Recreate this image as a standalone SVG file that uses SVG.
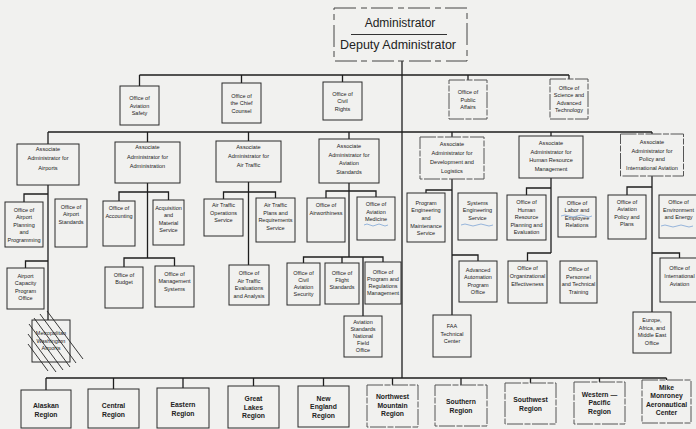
<svg xmlns="http://www.w3.org/2000/svg" width="696" height="429" viewBox="0 0 696 429">
<style>
.bx{fill:none;stroke:#2a2a2a;stroke-width:1}
.fd{stroke:#555;stroke-dasharray:16 1.5 6 1.5}
.ad{stroke:#444;stroke-dasharray:22 5 6 4}
.t{font-family:"Liberation Sans",Arial,sans-serif;font-size:5.5px;fill:#222;text-anchor:middle}
.a{font-size:5.6px}
.r{font-size:6.8px;font-weight:bold}
.c{fill:none;stroke:#1e1e1e;stroke-width:1.3}
.h{stroke:#222;stroke-width:0.9}
.bl{fill:none;stroke:#7fa6d6;stroke-width:0.8}
</style>
<rect width="696" height="429" fill="#f1f1ef"/>
<g id="connectors">
<path class="c" d="M402 61V378"/>
<path class="c" d="M139.5 75H569M139.5 75V86M241.5 75V83M342.5 75V82M468 75V80M569 75V79"/>
<path class="c" d="M48 132H652M48 132V144M147.5 132V142M248.5 132V141M349 132V139M452 132V137M551 132V136M652 132V134"/>
<path class="c" d="M48 185V320M24 202V194H48M25.5 268V261H48"/>
<path class="c" d="M147.5 183V258M119 201V192H168.5V200M124 267V258H174.5V266"/>
<path class="c" d="M248.5 182V265M223.5 199V192H275.5V198"/>
<path class="c" d="M349 183V257M326 198V191H376V197M303.5 263V257H383V262M342 257V263M363 257V316"/>
<path class="c" d="M452 179V315M426 193V190H452M452 255H478V261"/>
<path class="c" d="M551 178V253M526.5 195V188H551M527.5 261V253H551"/>
<path class="c" d="M652 176V312M627 195V187H652M652 253H679.5V258"/>
<path class="c" d="M46 378H666.5M46 378V390M113.5 378V389M183 378V388M253.5 378V386M323.5 378V386M392.5 378V385M461 378V385M530.5 378V383M599.5 378V382M666.5 378V380"/>
</g>
<g id="admin">
<rect class="bx ad" x="334" y="8" width="133" height="53"/>
<text class="t" x="400" y="27" style="font-size:12px">Administrator</text>
<path d="M351 34.5H447" stroke="#333" stroke-width="1"/>
<text class="t" x="398" y="49" style="font-size:12.5px">Deputy Administrator</text>
</g>
<g id="safety"><rect class="bx" x="120" y="86" width="39" height="39"/><text class="t" x="139.5" y="100">Office of<tspan x="139.5" dy="7.5">Aviation</tspan><tspan x="139.5" dy="7.5">Safety</tspan></text></g>
<g id="counsel"><rect class="bx" x="222" y="83" width="39" height="40"/><text class="t" x="241.5" y="97.5">Office of<tspan x="241.5" dy="7.5">the Chief</tspan><tspan x="241.5" dy="7.5">Counsel</tspan></text></g>
<g id="civil"><rect class="bx" x="323" y="82" width="39" height="38"/><text class="t" x="342.5" y="95.5">Office of<tspan x="342.5" dy="7.5">Civil</tspan><tspan x="342.5" dy="7.5">Rights</tspan></text></g>
<g id="public"><rect class="bx fd" x="449" y="80" width="38" height="39"/><text class="t" x="468" y="94">Office of<tspan x="468" dy="7.5">Public</tspan><tspan x="468" dy="7.5">Affairs</tspan></text></g>
<g id="science"><rect class="bx fd" x="550" y="79" width="38" height="40"/><text class="t" x="569" y="89.5">Office of<tspan x="569" dy="7.5">Science and</tspan><tspan x="569" dy="7.5">Advanced</tspan><tspan x="569" dy="7.5">Technology</tspan></text></g>

<g id="aa-airports"><rect class="bx" x="17" y="144" width="62" height="41"/><text class="t a" x="48" y="150.5">Associate<tspan x="48" dy="9.5">Administrator for</tspan><tspan x="48" dy="9.5">Airports</tspan></text></g>
<g id="aa-admin"><rect class="bx" x="115" y="142" width="65" height="41"/><text class="t a" x="147.5" y="149">Associate<tspan x="147.5" dy="9.5">Administrator for</tspan><tspan x="147.5" dy="9.5">Administration</tspan></text></g>
<g id="aa-airtraffic"><rect class="bx" x="216" y="141" width="65" height="41"/><text class="t a" x="248.5" y="149">Associate<tspan x="248.5" dy="9">Administrator for</tspan><tspan x="248.5" dy="9">Air Traffic</tspan></text></g>
<g id="aa-standards"><rect class="bx" x="319" y="139" width="60" height="44"/><text class="t a" x="349" y="148">Associate<tspan x="349" dy="8.7">Administrator for</tspan><tspan x="349" dy="8.7">Aviation</tspan><tspan x="349" dy="8.7">Standards</tspan></text></g>
<g id="aa-devlog"><rect class="bx fd" x="420" y="137" width="64" height="42"/><text class="t a" x="452" y="146">Associate<tspan x="452" dy="9">Administrator for</tspan><tspan x="452" dy="9">Development and</tspan><tspan x="452" dy="9">Logistics</tspan></text></g>
<g id="aa-hrm"><rect class="bx" x="519" y="136" width="64" height="42"/><text class="t a" x="551" y="145">Associate<tspan x="551" dy="8.7">Administrator for</tspan><tspan x="551" dy="8.7">Human Resource</tspan><tspan x="551" dy="8.7">Management</tspan></text></g>
<g id="aa-policy"><rect class="bx fd" x="620.5" y="134" width="63" height="42"/><text class="t a" x="652" y="144">Associate<tspan x="652" dy="8.5">Administrator for</tspan><tspan x="652" dy="8.5">Policy and</tspan><tspan x="652" dy="8.5">International Aviation</tspan></text></g>

<g id="ap-plan"><rect class="bx" x="5" y="202" width="38" height="45"/><text class="t" x="24" y="211.5">Office of<tspan x="24" dy="7.5">Airport</tspan><tspan x="24" dy="7.5">Planning</tspan><tspan x="24" dy="7.5">and</tspan><tspan x="24" dy="7.5">Programming</tspan></text></g>
<g id="ap-std"><rect class="bx" x="55" y="199" width="32" height="48"/><text class="t" x="71" y="208.5">Office of<tspan x="71" dy="7.5">Airport</tspan><tspan x="71" dy="7.5">Standards</tspan></text></g>
<g id="ap-cap"><rect class="bx" x="7" y="268" width="37" height="41"/><text class="t" x="25.5" y="277.5">Airport<tspan x="25.5" dy="7.5">Capacity</tspan><tspan x="25.5" dy="7.5">Program</tspan><tspan x="25.5" dy="7.5">Office</tspan></text></g>
<g id="mwa"><rect class="bx" x="32" y="320" width="38" height="42"/><text class="t" x="51" y="335">Metropolitan<tspan x="51" dy="7.7">Washington</tspan><tspan x="51" dy="7.7">Airports</tspan></text>
<path class="h" d="M47 311L83 359M40 314L76 363M34 318L70 367M29 324L63 370M28 334L56 372M28 344L48 371"/></g>

<g id="ad-acct"><rect class="bx" x="103" y="201" width="32" height="45"/><text class="t" x="119" y="210">Office of<tspan x="119" dy="7.5">Accounting</tspan></text></g>
<g id="ad-acq"><rect class="bx" x="153" y="200" width="31" height="45"/><text class="t" x="168.5" y="209.5">Acquisition<tspan x="168.5" dy="7.5">and</tspan><tspan x="168.5" dy="7.5">Material</tspan><tspan x="168.5" dy="7.5">Service</tspan></text></g>
<g id="ad-budget"><rect class="bx" x="105" y="267" width="38" height="41"/><text class="t" x="124" y="276.5">Office of<tspan x="124" dy="7.5">Budget</tspan></text></g>
<g id="ad-mgmt"><rect class="bx" x="155" y="266" width="39" height="41"/><text class="t" x="174.5" y="275.5">Office of<tspan x="174.5" dy="7.5">Management</tspan><tspan x="174.5" dy="7.5">Systems</tspan></text></g>

<g id="at-ops"><rect class="bx" x="204" y="199" width="39" height="37"/><text class="t" x="223.5" y="207">Air Traffic<tspan x="223.5" dy="7.5">Operations</tspan><tspan x="223.5" dy="7.5">Service</tspan></text></g>
<g id="at-plans"><rect class="bx" x="256" y="198" width="39" height="44"/><text class="t" x="275.5" y="207">Air Traffic<tspan x="275.5" dy="7.5">Plans and</tspan><tspan x="275.5" dy="7.5">Requirements</tspan><tspan x="275.5" dy="7.5">Service</tspan></text></g>
<g id="at-eval"><rect class="bx" x="229" y="265" width="40" height="40"/><text class="t" x="249" y="275">Office of<tspan x="249" dy="7.5">Air Traffic</tspan><tspan x="249" dy="7.5">Evaluations</tspan><tspan x="249" dy="7.5">and Analysis</tspan></text></g>

<g id="as-air"><rect class="bx" x="307" y="198" width="38" height="44"/><text class="t" x="326" y="207">Office of<tspan x="326" dy="7.5">Airworthiness</tspan></text></g>
<g id="as-med"><rect class="bx" x="357" y="197" width="38" height="43"/><text class="t" x="376" y="206">Office of<tspan x="376" dy="7.5">Aviation</tspan><tspan x="376" dy="7.5">Medicine</tspan></text><path class="bl" d="M364 225q3-2 6 0t6 0t6 0t6 0"/></g>
<g id="as-sec"><rect class="bx" x="287" y="263" width="33" height="42"/><text class="t" x="303.5" y="274.5">Office of<tspan x="303.5" dy="7.3">Civil</tspan><tspan x="303.5" dy="7.3">Aviation</tspan><tspan x="303.5" dy="7.3">Security</tspan></text></g>
<g id="as-flt"><rect class="bx" x="325" y="263" width="34" height="41"/><text class="t" x="342" y="274.5">Office of<tspan x="342" dy="7.3">Flight</tspan><tspan x="342" dy="7.3">Standards</tspan></text></g>
<g id="as-prog"><rect class="bx" x="365" y="262" width="36" height="42"/><text class="t" x="383" y="273.5">Office of<tspan x="383" dy="7.3">Program and</tspan><tspan x="383" dy="7.3">Regulations</tspan><tspan x="383" dy="7.3">Management</tspan></text></g>
<g id="as-nfo"><rect class="bx" x="344" y="316" width="38" height="41"/><text class="t" x="363" y="323.5">Aviation<tspan x="363" dy="7.2">Standards</tspan><tspan x="363" dy="7.2">National</tspan><tspan x="363" dy="7.2">Field</tspan><tspan x="363" dy="7.2">Office</tspan></text></g>

<g id="dl-pem"><rect class="bx" x="407" y="193" width="38" height="49"/><text class="t" x="426" y="204.5">Program<tspan x="426" dy="7.7">Engineering</tspan><tspan x="426" dy="7.7">and</tspan><tspan x="426" dy="7.7">Maintenance</tspan><tspan x="426" dy="7.7">Service</tspan></text></g>
<g id="dl-se"><rect class="bx" x="458" y="193" width="39" height="47"/><text class="t" x="477.5" y="204.5">Systems<tspan x="477.5" dy="7.5">Engineering</tspan><tspan x="477.5" dy="7.5">Service</tspan></text><path class="bl" d="M461 225q4-2 8 0t8 0t8 0t8 0"/></g>
<g id="dl-aa"><rect class="bx" x="459" y="261" width="38" height="41"/><text class="t" x="478" y="271.5">Advanced<tspan x="478" dy="7.5">Automation</tspan><tspan x="478" dy="7.5">Program</tspan><tspan x="478" dy="7.5">Office</tspan></text></g>
<g id="dl-tc"><rect class="bx" x="433" y="315" width="38" height="42"/><text class="t" x="452" y="328">FAA<tspan x="452" dy="7.7">Technical</tspan><tspan x="452" dy="7.7">Center</tspan></text></g>

<g id="hr-pe"><rect class="bx" x="507" y="195" width="39" height="45"/><text class="t" x="526.5" y="204">Office of<tspan x="526.5" dy="7.6">Human</tspan><tspan x="526.5" dy="7.6">Resource</tspan><tspan x="526.5" dy="7.6">Planning and</tspan><tspan x="526.5" dy="7.6">Evaluation</tspan></text></g>
<g id="hr-ler"><rect class="bx" x="558" y="197" width="38" height="40"/><text class="t" x="577" y="204.5">Office of<tspan x="577" dy="7.5">Labor and</tspan><tspan x="577" dy="7.5">Employee</tspan><tspan x="577" dy="7.5">Relations</tspan></text><path class="bl" d="M561 216q4-2 8 0t8 0t8 0t7 0"/></g>
<g id="hr-oe"><rect class="bx" x="508" y="261" width="39" height="42"/><text class="t" x="527.5" y="270">Office of<tspan x="527.5" dy="7.8">Organizational</tspan><tspan x="527.5" dy="7.8">Effectiveness</tspan></text></g>
<g id="hr-ptt"><rect class="bx" x="560" y="261" width="37" height="42"/><text class="t" x="578.5" y="271">Office of<tspan x="578.5" dy="7.6">Personnel</tspan><tspan x="578.5" dy="7.6">and Technical</tspan><tspan x="578.5" dy="7.6">Training</tspan></text></g>

<g id="pi-pp"><rect class="bx" x="608" y="195" width="38" height="44"/><text class="t" x="627" y="204">Office of<tspan x="627" dy="7.3">Aviation</tspan><tspan x="627" dy="7.3">Policy and</tspan><tspan x="627" dy="7.3">Plans</tspan></text></g>
<g id="pi-ee"><rect class="bx" x="659" y="195" width="39" height="43"/><text class="t" x="678.5" y="204">Office of<tspan x="678.5" dy="7.5">Environment</tspan><tspan x="678.5" dy="7.5">and Energy</tspan></text><path class="bl" d="M661 226q4-2 8 0t8 0t8 0t8 0"/></g>
<g id="pi-ia"><rect class="bx" x="660" y="258" width="39" height="44"/><text class="t" x="679.5" y="270">Office of<tspan x="679.5" dy="8">International</tspan><tspan x="679.5" dy="8">Aviation</tspan></text></g>
<g id="pi-eu"><rect class="bx" x="633" y="312" width="38" height="41"/><text class="t" x="652" y="322">Europe,<tspan x="652" dy="7.5">Africa, and</tspan><tspan x="652" dy="7.5">Middle East</tspan><tspan x="652" dy="7.5">Office</tspan></text></g>

<g id="rg-alaskan"><rect class="bx" x="21" y="390" width="50" height="38"/><text class="t r" x="46" y="408">Alaskan<tspan x="46" dy="9">Region</tspan></text></g>
<g id="rg-central"><rect class="bx" x="88" y="389" width="51" height="39"/><text class="t r" x="113.5" y="407.5">Central<tspan x="113.5" dy="9">Region</tspan></text></g>
<g id="rg-eastern"><rect class="bx" x="157" y="388" width="52" height="40"/><text class="t r" x="183" y="406.5">Eastern<tspan x="183" dy="9">Region</tspan></text></g>
<g id="rg-greatlakes"><rect class="bx" x="228" y="386" width="51" height="42"/><text class="t r" x="253.5" y="401">Great<tspan x="253.5" dy="8.5">Lakes</tspan><tspan x="253.5" dy="8.5">Region</tspan></text></g>
<g id="rg-newengland"><rect class="bx" x="298" y="386" width="51" height="41"/><text class="t r" x="323.5" y="400.5">New<tspan x="323.5" dy="8.5">England</tspan><tspan x="323.5" dy="8.5">Region</tspan></text></g>
<g id="rg-northwest"><rect class="bx fd" x="367" y="385" width="51" height="42"/><text class="t r" x="392.5" y="399">Northwest<tspan x="392.5" dy="8.5">Mountain</tspan><tspan x="392.5" dy="8.5">Region</tspan></text></g>
<g id="rg-southern"><rect class="bx fd" x="435" y="385" width="52" height="41"/><text class="t r" x="461" y="404">Southern<tspan x="461" dy="9">Region</tspan></text></g>
<g id="rg-southwest"><rect class="bx fd" x="505" y="383" width="51" height="41"/><text class="t r" x="530.5" y="402">Southwest<tspan x="530.5" dy="9">Region</tspan></text></g>
<g id="rg-western"><rect class="bx fd" x="574" y="382" width="51" height="42"/><text class="t r" x="599.5" y="396.5">Western —<tspan x="599.5" dy="8.5">Pacific</tspan><tspan x="599.5" dy="8.5">Region</tspan></text></g>
<g id="rg-mike"><rect class="bx fd" x="642" y="380" width="49" height="43"/><text class="t r" x="666.5" y="390">Mike<tspan x="666.5" dy="8.3">Monroney</tspan><tspan x="666.5" dy="8.3">Aeronautical</tspan><tspan x="666.5" dy="8.3">Center</tspan></text></g>
</svg>
